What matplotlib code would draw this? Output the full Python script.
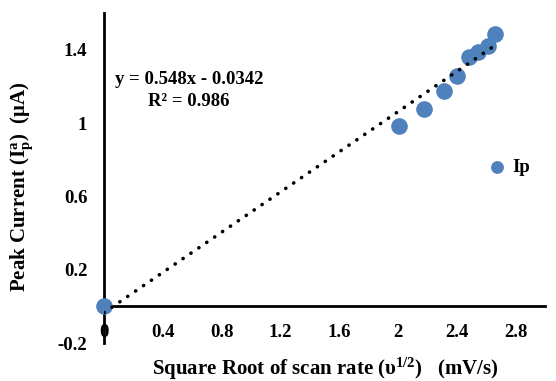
import numpy as np
import matplotlib
matplotlib.use("Agg")
import matplotlib.pyplot as plt

# sqrt(scan rate) vs peak current
x_vals = [0.0, 2.01, 2.177, 2.311, 2.402, 2.482, 2.546, 2.609, 2.659]
ip_vals = [0.0, 0.986, 1.077, 1.177, 1.259, 1.358, 1.388, 1.418, 1.488]
slope, intercept = 0.548, -0.0342
x_ticks = [0, 0.4, 0.8, 1.2, 1.6, 2, 2.4, 2.8]
y_ticks = [-0.2, 0.2, 0.6, 1, 1.4]

plt.rcParams['font.family'] = ['Liberation Serif', 'DejaVu Serif']
plt.rcParams['font.weight'] = 'bold'
plt.rcParams['mathtext.default'] = 'regular'

blue = '#4F81BD'
H = 381

fig = plt.figure(figsize=(5.56, 3.81), dpi=100)
ax = fig.add_axes([104 / 556, 1 - 343 / H, 441 / 556, 330 / H])

ax.scatter(x_vals, ip_vals, s=120, color=blue, zorder=3, label='Ip', clip_on=False)

xfit = np.array([0.0, max(x_vals)])
ax.plot(xfit, slope * xfit + intercept, color='black', lw=2.6,
        linestyle=(0, (0.05, 2.6)), dash_capstyle='round', zorder=4)

ax.set_xlim(0, 3.0)
ax.set_ylim(-0.2, 1.6)
ax.set_xticks(x_ticks)
ax.set_xticklabels([f'{v:g}' for v in x_ticks])
ax.set_yticks(y_ticks)
ax.set_yticklabels([f'{v:g}' for v in y_ticks])

for s in ['top', 'right']:
    ax.spines[s].set_visible(False)
ax.spines['bottom'].set_position(('data', 0))
ax.spines['left'].set_position(('data', 0))
ax.spines['bottom'].set_linewidth(2)
ax.spines['left'].set_linewidth(2)
ax.tick_params(axis='both', length=0, labelsize=13.5)
ax.tick_params(axis='x', pad=13)
ax.tick_params(axis='y', pad=12)
for lab in ax.get_xticklabels() + ax.get_yticklabels():
    lab.set_fontweight('bold')

fig.text(189 / 556, 1 - 80 / H, 'y = 0.548x - 0.0342', fontsize=13.5,
         fontweight='bold', ha='center', va='center')
fig.text(189 / 556, 1 - 101 / H, 'R² = 0.986', fontsize=13.5,
         fontweight='bold', ha='center', va='center')

fig.text(325 / 556, 1 - 369 / H, r'Square Root of scan rate ($\upsilon^{1/2}$)   (mV/s)',
         fontsize=15, fontweight='bold', ha='center', va='center')
fig.text(22 / 556, 1 - 187 / H, r'Peak Current (I$_p^a$)  (μA)',
         fontsize=15, fontweight='bold', ha='center', va='center', rotation=90)

leg = ax.legend(loc='center left', bbox_to_anchor=(467 / 556, 1 - 167 / H),
                bbox_transform=fig.transFigure, frameon=False, fontsize=13.5,
                markerscale=0.75, handlelength=1.4, handletextpad=0.1)
for t in leg.get_texts():
    t.set_fontweight('bold')

fig.savefig('out.png', dpi=100)
